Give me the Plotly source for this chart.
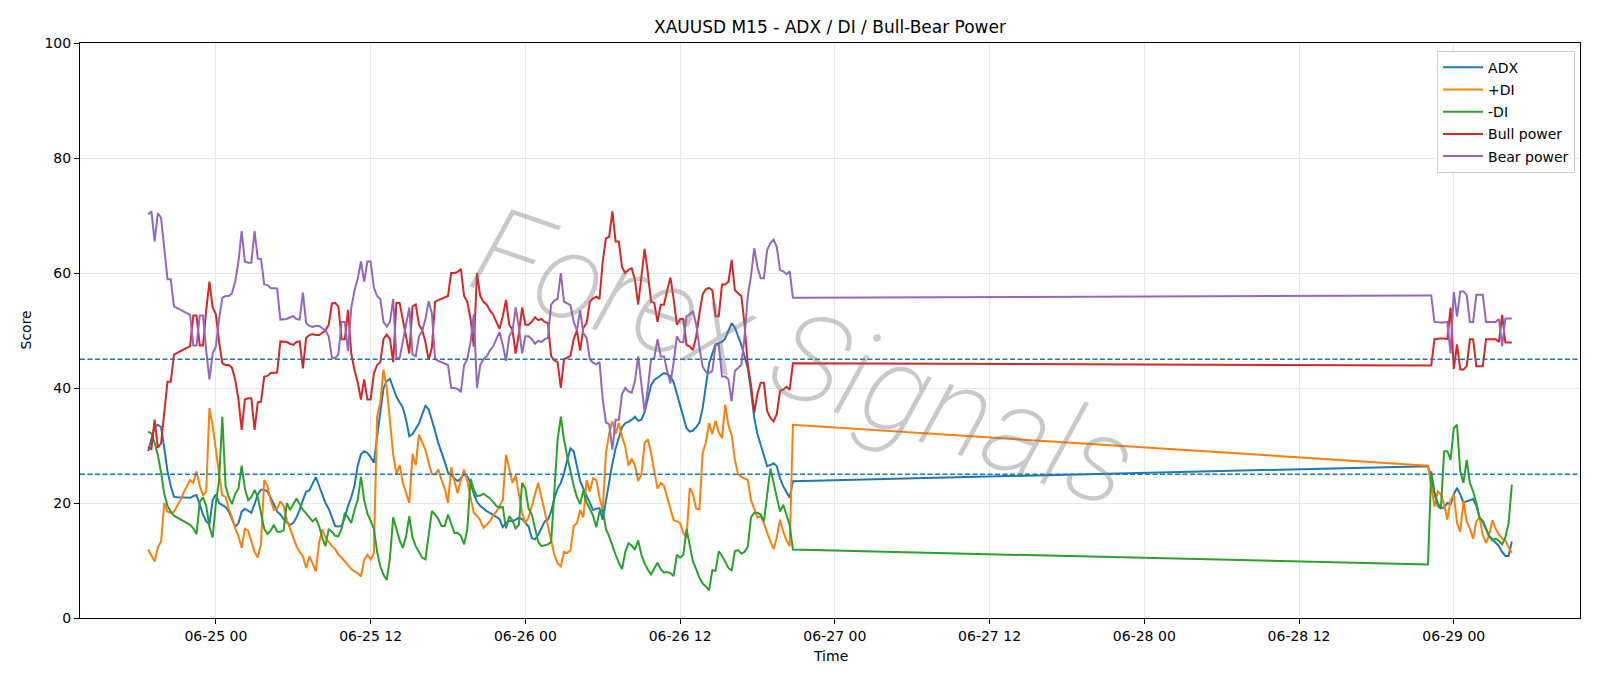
import pandas as pd
import plotly.graph_objects as go

# ---- time index (M15 bars, two trading sessions separated by the weekend) ----
times_week1 = pd.date_range("2020-06-24 18:45", "2020-06-26 20:45", freq="15min")
times_week2 = pd.date_range("2020-06-28 22:00", "2020-06-29 04:30", freq="15min")

# ---- series values ----
adx_week1 = [
    29.0, 31.0, 33.3, 33.6, 33.2, 29.5, 25.5, 23.0, 21.1, 21.0,
    21.0, 21.0, 20.9, 20.9, 21.2, 21.4, 19.7, 18.0, 16.8, 16.3,
    20.5, 21.5, 20.0, 19.6, 19.3, 18.5, 17.3, 15.9, 16.5, 18.5,
    19.0, 18.6, 18.3, 19.8, 21.5, 22.3, 22.3, 22.0, 21.0, 19.8,
    18.5, 18.0, 17.2, 16.6, 16.2, 16.5, 17.5, 18.8, 20.5, 22.0,
    22.2, 23.5, 24.5, 23.0, 21.5, 20.0, 19.0, 17.5, 16.0, 15.9,
    16.0, 17.5, 19.5, 21.0, 23.0, 26.5, 28.5, 29.0, 28.7, 28.0,
    27.0, 31.5, 36.0, 40.0, 41.2, 41.6, 40.0, 38.5, 37.5, 36.6,
    34.5, 31.6, 32.0, 32.8, 33.8, 35.4, 36.9, 36.3, 34.5, 32.5,
    30.4, 28.9, 27.2, 25.3, 24.8, 24.3, 23.8, 24.3, 25.1, 24.6,
    23.5, 21.6, 20.2, 19.5, 19.0, 18.6, 18.3, 18.0, 17.6, 17.2,
    15.8, 16.5, 16.9, 16.8, 17.1, 17.4, 17.2, 16.5, 15.9, 13.9,
    13.7, 14.5, 15.6, 16.8, 17.1, 18.5, 20.8, 22.5, 23.5, 25.2,
    27.5, 29.5, 29.0, 26.5, 23.8, 22.5, 21.2, 20.0, 18.8, 19.0,
    19.1, 17.1, 20.6, 23.5, 26.9, 29.5, 31.3, 33.2, 33.9, 34.1,
    34.5, 35.0, 34.3, 34.5, 35.8, 38.0, 40.5, 41.4, 41.8, 42.3,
    42.6, 42.4, 42.0, 41.0, 39.0, 37.2, 35.0, 33.0, 32.4, 32.6,
    33.2, 34.0, 36.5, 40.4, 44.3, 46.0, 47.6, 47.8, 48.0, 48.6,
    50.0, 51.3, 50.5, 49.0, 47.5, 45.5, 43.5, 39.5, 34.8, 32.0,
    30.0, 28.0, 26.4, 26.6, 26.9, 26.4, 24.3, 22.9, 21.8, 20.9, 23.8,
]
adx_week2 = [
    26.4, 24.5, 21.5, 20.0, 19.1, 19.2, 20.0, 19.8, 21.5, 22.6,
    21.5, 20.1, 20.3, 20.5, 20.7, 19.5, 17.5, 16.7, 15.3, 14.2,
    13.7, 13.0, 12.5, 11.5, 10.8, 10.8, 13.3,
]

plus_di_week1 = [
    11.9, 10.7, 9.8, 12.3, 13.3, 20.0, 18.5, 18.3, 18.5, 19.5,
    20.5, 21.8, 23.0, 24.0, 23.5, 25.5, 23.0, 21.3, 22.0, 36.5,
    33.5, 29.0, 25.0, 21.3, 21.1, 19.0, 17.5, 15.6, 14.2, 12.2,
    15.5, 15.2, 13.5, 11.5, 10.5, 13.0, 24.0, 23.0, 20.5, 18.8,
    19.0, 20.3, 19.5, 17.0, 15.6, 14.0, 12.5, 11.5, 10.7, 8.7,
    10.7, 9.5, 8.1, 13.0, 15.4, 14.0, 13.2, 12.5, 12.0, 11.0,
    10.5, 9.8, 9.2, 8.5, 8.1, 7.8, 7.2, 10.1, 11.0, 10.2,
    11.2, 35.0, 37.5, 43.2, 40.0, 34.5, 28.5, 25.0, 26.6, 23.5,
    21.7, 20.0, 28.5, 26.6, 31.9, 30.5, 29.3, 27.0, 25.0, 25.0,
    25.8, 24.0, 22.5, 20.0, 26.2, 23.8, 21.7, 24.0, 25.8, 23.8,
    21.0, 18.3, 17.8, 17.0, 15.7, 16.2, 16.8, 17.8, 18.5, 19.5,
    20.5, 28.4, 25.8, 23.5, 24.8, 21.2, 18.3, 16.5, 17.5, 19.5,
    21.5, 23.5, 21.0, 18.5, 16.5, 13.5, 11.0, 9.5, 9.0, 11.5,
    11.3, 11.8, 16.0, 16.5, 18.8, 17.5, 24.0, 22.0, 24.3, 24.0,
    21.0, 18.8, 28.7, 32.1, 34.2, 32.0, 33.9, 31.5, 29.8, 26.5,
    27.7, 26.5, 23.8, 25.0, 30.5, 31.1, 28.7, 25.5, 22.5, 23.5,
    23.0, 21.0, 19.0, 17.0, 16.8, 16.5, 14.8, 13.9, 22.6, 21.5,
    19.0, 18.9, 28.7, 30.5, 33.9, 32.0, 34.3, 32.3, 31.3, 37.1,
    33.5, 31.8, 27.5, 25.0, 24.6, 24.3, 24.0, 20.5, 18.8, 17.5,
    17.7, 16.5, 14.8, 13.3, 12.0, 14.0, 17.1, 15.0, 13.5, 12.5, 33.6,
]
plus_di_week2 = [
    26.5, 23.0, 19.4, 22.0, 21.5, 19.8, 17.1, 20.5, 21.5, 16.5,
    15.0, 20.3, 16.8, 15.5, 13.8, 16.8, 17.5, 14.5, 13.0, 14.5,
    17.0, 15.5, 14.5, 13.8, 13.5, 12.3, 11.3,
]

minus_di_week1 = [
    32.4, 32.1, 30.5, 28.3, 25.3, 21.5, 19.5, 18.5, 17.8, 17.5,
    17.2, 16.9, 16.5, 16.2, 15.6, 14.6, 20.2, 21.0, 19.5, 15.9,
    14.0, 20.0, 24.0, 35.0, 23.0, 21.0, 19.8, 21.6, 22.5, 26.5,
    22.5, 20.5, 21.0, 22.3, 21.0, 18.0, 15.5, 14.6, 15.2, 16.2,
    15.0, 15.0, 15.2, 20.0, 18.8, 19.8, 20.8, 19.8, 18.8, 18.2,
    17.5, 16.8, 17.3, 16.0, 14.0, 12.5, 15.5, 15.0, 14.3, 14.2,
    15.5, 18.3, 17.5, 16.5, 18.8, 20.5, 24.6, 20.5, 18.2, 16.8,
    15.6, 11.5, 9.0, 7.5, 6.6, 10.5, 17.5, 15.5, 13.5, 12.2,
    14.2, 17.7, 14.0, 12.5, 11.5, 10.5, 10.2, 14.5, 18.6, 18.0,
    17.2, 16.0, 16.0, 18.0, 16.2, 14.8, 14.8, 14.3, 12.8, 15.5,
    24.2, 22.3, 21.2, 21.3, 21.6, 21.2, 20.8, 20.2, 19.5, 19.2,
    19.3, 15.6, 17.7, 17.0, 15.6, 16.2, 23.5, 22.5, 19.0, 18.0,
    15.5, 13.2, 12.5, 12.6, 12.8, 13.2, 21.5, 31.0, 35.0, 31.0,
    28.0, 25.3, 23.0, 21.0, 19.8, 22.2, 20.0, 19.0, 17.8, 15.8,
    18.5, 18.8, 15.5, 14.2, 12.5, 11.0, 9.6, 8.5, 11.5, 13.0,
    12.6, 11.9, 13.5, 11.0, 9.5, 8.4, 7.6, 8.5, 9.6, 8.5,
    7.9, 8.0, 7.8, 7.3, 11.0, 10.5, 11.0, 15.5, 12.5, 9.8,
    8.5, 7.0, 6.0, 5.5, 4.8, 8.3, 8.2, 11.6, 10.8, 9.6,
    8.7, 8.2, 11.6, 11.8, 11.2, 11.5, 12.4, 17.5, 18.3, 18.3,
    18.0, 16.8, 21.5, 26.0, 23.5, 20.8, 18.5, 19.7, 18.0, 16.2, 11.9,
]
minus_di_week2 = [
    9.3, 25.5, 22.0, 19.5, 19.0, 29.0, 29.0, 27.5, 33.0, 33.6,
    25.5, 23.5, 27.5, 23.5, 22.0, 20.0, 17.4, 16.9, 15.5, 14.2,
    13.5, 13.8, 13.4, 12.8, 14.0, 16.5, 23.2,
]

bull_week1 = [
    29.8, 29.3, 34.5, 29.6, 30.4, 36.0, 41.1, 41.1, 45.8, 46.1,
    46.4, 46.7, 47.0, 47.3, 52.6, 52.6, 47.4, 47.4, 53.5, 58.5,
    54.0, 52.8, 48.0, 44.3, 44.0, 44.0, 43.5, 41.5, 38.0, 32.7,
    38.0, 38.2, 38.2, 32.7, 37.5, 37.6, 42.0, 42.1, 42.6, 42.7,
    42.7, 48.1, 48.1, 48.0, 47.7, 47.5, 48.0, 48.1, 43.4, 48.7,
    49.2, 49.4, 49.2, 49.2, 49.6, 50.0, 51.0, 54.7, 54.8, 54.2,
    48.5, 48.5, 53.6, 46.0, 43.1, 41.0, 38.0, 41.5, 38.0, 38.0,
    42.5, 44.0, 44.5, 48.5, 49.3, 48.5, 44.5, 54.8, 54.8, 52.0,
    49.0, 46.0, 54.2, 54.5, 51.0, 50.1, 48.0, 44.9, 47.0, 55.0,
    55.3, 55.5, 55.7, 56.0, 60.0, 60.0, 60.2, 60.7, 56.0, 55.0,
    52.0, 47.2, 60.0, 56.0, 55.0, 54.5, 53.5, 52.8, 51.5, 50.3,
    52.5, 55.3, 51.0, 50.1, 46.0, 49.5, 54.0, 51.0, 51.0, 51.5,
    52.3, 51.8, 52.0, 51.5, 51.3, 45.5, 44.8, 44.5, 40.0, 45.0,
    45.3, 45.6, 48.5, 50.0, 46.5, 50.5, 51.3, 55.0, 55.6, 55.9,
    55.5, 62.0, 66.0, 66.3, 70.7, 65.5, 65.5, 61.0, 60.0, 60.6,
    60.8, 58.8, 54.5, 59.0, 64.2, 60.0, 55.0, 54.8, 51.5, 54.5,
    54.5, 57.0, 59.2, 55.5, 51.0, 52.0, 52.0, 47.5, 47.2, 46.6,
    49.0, 53.0, 56.3, 57.2, 57.4, 57.0, 52.5, 52.5, 58.0, 58.0,
    58.5, 62.3, 57.0, 56.5, 56.0, 51.0, 44.0, 40.5, 35.7, 39.0,
    40.9, 40.9, 36.0, 34.8, 34.2, 35.5, 39.5, 39.7, 40.2, 39.7, 44.3,
]
bull_week2 = [
    43.9, 43.9, 48.5, 48.6, 48.6, 48.6, 48.5, 54.0, 43.3, 47.6,
    43.2, 43.2, 43.8, 48.5, 48.5, 43.8, 43.8, 43.8, 48.5, 48.5,
    48.5, 48.5, 48.0, 52.7, 47.9, 47.9, 47.9,
]

bear_week1 = [
    70.2, 70.7, 65.5, 70.4, 69.6, 64.0, 58.9, 58.9, 54.2, 53.9,
    53.6, 53.3, 53.0, 52.7, 47.4, 47.4, 52.6, 52.6, 46.5, 41.5,
    46.0, 47.2, 52.0, 55.7, 56.0, 56.0, 56.5, 58.5, 62.0, 67.3,
    62.0, 61.8, 61.8, 67.3, 62.5, 62.4, 58.0, 57.9, 57.4, 57.3,
    57.3, 51.9, 51.9, 52.0, 52.3, 52.5, 52.0, 51.9, 56.6, 51.3,
    50.8, 50.6, 50.8, 50.8, 50.4, 50.0, 49.0, 45.3, 45.2, 45.8,
    51.5, 51.5, 46.4, 54.0, 56.9, 59.0, 62.0, 58.5, 62.0, 62.0,
    57.5, 56.0, 55.5, 51.5, 50.7, 51.5, 55.5, 45.2, 45.2, 48.0,
    51.0, 54.0, 45.8, 45.5, 49.0, 49.9, 52.0, 55.1, 53.0, 45.0,
    44.7, 44.5, 44.3, 44.0, 40.0, 40.0, 39.8, 39.3, 44.0, 45.0,
    48.0, 52.8, 40.0, 44.0, 45.0, 45.5, 46.5, 47.2, 48.5, 49.7,
    47.5, 44.7, 49.0, 49.9, 54.0, 50.5, 46.0, 49.0, 49.0, 48.5,
    47.7, 48.2, 48.0, 48.5, 48.7, 54.5, 55.2, 55.5, 60.0, 55.0,
    54.7, 54.4, 51.5, 50.0, 53.5, 49.5, 48.7, 45.0, 44.4, 44.1,
    44.5, 38.0, 34.0, 33.7, 29.3, 34.5, 34.5, 39.0, 40.0, 39.4,
    39.2, 41.2, 45.5, 41.0, 35.8, 40.0, 45.0, 45.2, 48.5, 45.5,
    45.5, 43.0, 40.8, 44.5, 49.0, 48.0, 48.0, 52.5, 52.8, 53.4,
    51.0, 47.0, 43.7, 42.8, 42.6, 43.0, 47.5, 47.5, 42.0, 42.0,
    41.5, 37.7, 43.0, 43.5, 44.0, 49.0, 56.0, 59.5, 64.3, 61.0,
    59.1, 59.1, 64.0, 65.2, 65.8, 64.5, 60.5, 60.3, 59.8, 60.3, 55.7,
]
bear_week2 = [
    56.1, 56.1, 51.5, 51.4, 51.4, 51.4, 51.5, 46.0, 56.7, 52.4,
    56.8, 56.8, 56.2, 51.5, 51.5, 56.2, 56.2, 56.2, 51.5, 51.5,
    51.5, 51.5, 52.0, 47.3, 52.1, 52.1, 52.1,
]

adx_threshold = 25
power_threshold = 45
y_ticks = [0, 20, 40, 60, 80, 100]

series = [
    ("ADX", adx_week1 + adx_week2, "#1f77b4"),
    ("+DI", plus_di_week1 + plus_di_week2, "#ff7f0e"),
    ("-DI", minus_di_week1 + minus_di_week2, "#2ca02c"),
    ("Bull power", bull_week1 + bull_week2, "#d62728"),
    ("Bear power", bear_week1 + bear_week2, "#9467bd"),
]
times = list(times_week1) + list(times_week2)

FONT = "DejaVu Sans"
fig = go.Figure()
for name, vals, color in series:
    fig.add_trace(go.Scatter(
        x=times, y=vals, mode="lines", name=name, legendgroup=name,
        line=dict(color=color, width=2),
    ))

for level in (power_threshold, adx_threshold):
    fig.add_shape(type="line", xref="paper", x0=0, x1=1, yref="y", y0=level, y1=level,
                  line=dict(color="#1f77b4", width=1.3, dash="5px,2.5px"), layer="above")

span = times[-1] - times[0]
pad = span * 0.05
x_range = [times[0] - pad, times[-1] + pad]

fig.update_layout(
    width=1600, height=686,
    margin=dict(l=80, r=20, t=43, b=68),
    paper_bgcolor="white", plot_bgcolor="white",
    font=dict(family=FONT, size=14, color="black"),
    showlegend=True,
    legend=dict(
        x=0.9967, xanchor="right", y=0.9866, yanchor="top",
        bgcolor="rgba(255,255,255,0.8)", bordercolor="#cccccc", borderwidth=1,
        font=dict(family=FONT, size=14, color="black"),
        tracegroupgap=1, itemwidth=40,
    ),
    xaxis=dict(
        type="date", range=x_range,
        tick0="2020-06-25 00:00", dtick=12 * 3600 * 1000, tickformat="%m-%d %H",
        showgrid=True, gridcolor="#e6e6e6", gridwidth=1,
        showline=True, linecolor="black", linewidth=1, mirror=True,
        ticks="outside", ticklen=5, tickcolor="black",
        zeroline=False, tickfont=dict(size=14),
    ),
    yaxis=dict(
        range=[0, 100], tickvals=y_ticks,
        showgrid=True, gridcolor="#e6e6e6", gridwidth=1,
        showline=True, linecolor="black", linewidth=1, mirror=True,
        ticks="outside", ticklen=5, tickcolor="black",
        zeroline=False, tickfont=dict(size=14),
    ),
    annotations=[
        dict(text="XAUUSD M15 - ADX / DI / Bull-Bear Power", xref="paper", yref="paper",
             x=0.5, y=1 + (43 - 27) / 575, xanchor="center", yanchor="middle",
             showarrow=False, font=dict(family=FONT, size=17, color="black")),
        dict(text="Time", xref="paper", yref="paper", x=0.5, y=-(656 - 618) / 575,
             xanchor="center", yanchor="middle", showarrow=False,
             font=dict(family=FONT, size=14, color="black")),
        dict(text="Score", xref="paper", yref="paper", x=-(80 - 25) / 1500, y=0.5,
             xanchor="center", yanchor="middle", textangle=-90, showarrow=False,
             font=dict(family=FONT, size=14, color="black")),
        dict(text="Forex Signals", xref="paper", yref="paper", x=(803 - 80) / 1500,
             y=(618 - 358) / 575, xanchor="center", yanchor="middle", textangle=19,
             showarrow=False,
             font=dict(family="Roboto", size=122, color="rgba(120,120,120,0.4)",
                       style="italic", weight=200)),
    ],
)

fig.write_html("out.html")
